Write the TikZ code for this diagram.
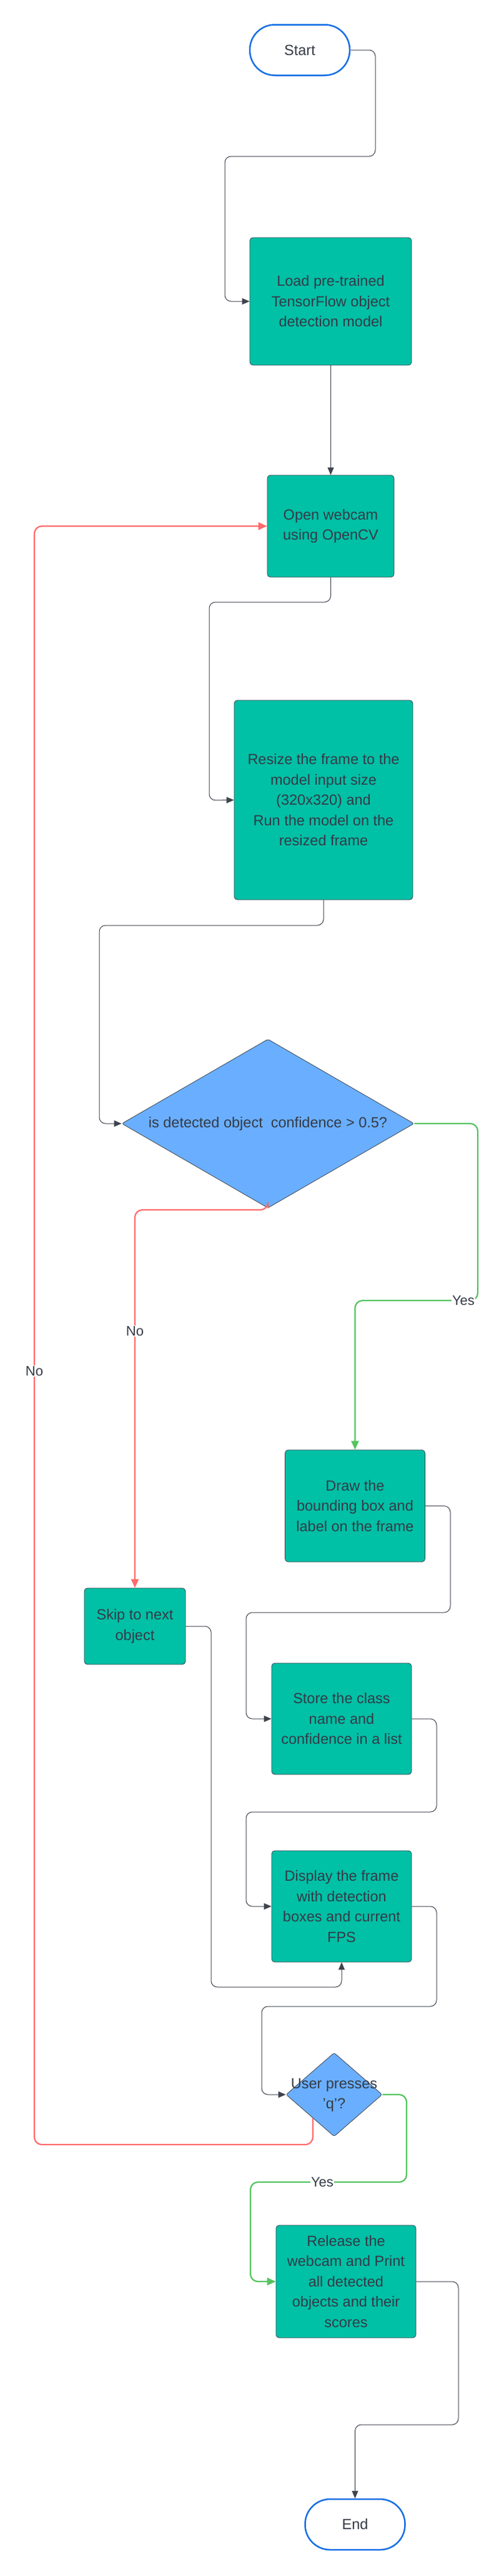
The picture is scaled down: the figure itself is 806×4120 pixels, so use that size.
\documentclass[tikz,border=0pt]{standalone}
\usepackage{fontspec}
\setmainfont{Liberation Sans}
\usetikzlibrary{shapes.geometric,arrows.meta,calc}
\definecolor{tealfill}{RGB}{0,192,166}
\definecolor{bluefill}{RGB}{106,175,255}
\definecolor{termblue}{RGB}{22,111,228}
\definecolor{edgegray}{RGB}{62,67,77}
\definecolor{textcol}{RGB}{52,58,70}
\definecolor{nored}{RGB}{255,106,106}
\definecolor{yesgreen}{RGB}{84,196,96}
\begin{document}
\begin{tikzpicture}[x=1pt,y=-1pt,
  every node/.style={text=textcol},
  box/.style={draw=edgegray, line width=0.8pt, fill=tealfill, rounded corners=5pt,
    align=center, inner sep=0pt, font=\fontsize{23.5}{32.5}\selectfont},
  terminal/.style={draw=termblue, line width=2.5pt, fill=white, rounded corners=40pt,
    minimum width=160pt, minimum height=81pt, inner sep=0pt, font=\fontsize{23.5}{32.5}\selectfont},
  decision/.style={diamond, draw=edgegray, line width=0.8pt, fill=bluefill, rounded corners=3pt, inner sep=0pt},
  txt/.style={align=center, inner sep=0pt, font=\fontsize{23.5}{32.5}\selectfont},
  conn/.style={draw=edgegray, line width=1pt, rounded corners=10pt, -{Triangle[length=12pt,width=10pt]}},
  noline/.style={draw=nored, line width=2.2pt, rounded corners=12pt, -{Triangle[length=14pt,width=12pt]}},
  yesline/.style={draw=yesgreen, line width=2.2pt, rounded corners=12pt, -{Triangle[length=14pt,width=12pt]}},
  lbl/.style={fill=white, inner sep=1.5pt, font=\fontsize{22}{26}\selectfont}
]
\useasboundingbox[fill=white] (0,0) rectangle (806,4120);

% nodes
\node[terminal] (start) at (480,80) {Start};
\node[box, minimum width=259pt, minimum height=204pt] (load) at (529.5,482)
  {Load pre-trained\\TensorFlow object\\detection model};
\node[box, minimum width=203pt, minimum height=163pt] (open) at (529.5,841.5)
  {Open webcam\\using OpenCV};
\node[box, minimum width=286pt, minimum height=319pt] (resize) at (518,1279.5)
  {Resize the frame to the\\model input size\\(320x320) and\\Run the model on the\\resized frame};
\node[decision, minimum width=468pt, minimum height=270pt] (dec1) at (429,1797) {};
\node[txt] (dec1t) at (429,1797) {is detected object\ \ confidence > 0.5?};
\node[box, minimum width=224pt, minimum height=179pt] (drawbox) at (568.5,2408.5)
  {Draw the\\bounding box and\\label on the frame};
\node[box, minimum width=162pt, minimum height=122pt] (skip) at (216,2601)
  {Skip to next\\object};
\node[box, minimum width=224pt, minimum height=178pt] (store) at (547,2749)
  {Store the class\\name and\\confidence in a list};
\node[box, minimum width=224pt, minimum height=178pt] (display) at (547,3049)
  {Display the frame\\with detection\\boxes and current\\FPS};
\node[decision, minimum width=154pt, minimum height=134pt] (dec2) at (535,3350) {};
\node[txt] (dec2t) at (535,3351) {User presses\\'q'?};
\node[box, minimum width=224pt, minimum height=180pt] (release) at (554,3649)
  {Release the\\webcam and Print\\all detected\\objects and their\\scores};
\node[terminal] (end) at (568.5,4037.5) {End};

% connectors
\draw[conn] (start.east) -- (601,80) -- (601,250) -- (360,250) -- (360,482) -- (load.west);
\draw[conn] (load.south) -- (open.north);
\draw[conn] (open.south) -- (529.5,963) -- (335,963) -- (335,1280) -- (resize.west);
\draw[conn] (resize.south) -- (518,1480) -- (159,1480) -- (159,1797) -- (dec1.west);
\draw[yesline] (dec1.east) -- (765,1797) -- (765,2080) -- (568.5,2080) -- (drawbox.north);
\node[lbl] (yes1) at (742,2080) {Yes};
\draw[noline] (dec1.south) -- (429,1935) -- (216,1935) -- (skip.north);
\node[lbl] (no1) at (216,2129) {No};
\draw[conn] (drawbox.east) -- (721,2408.5) -- (721,2579) -- (394,2579) -- (394,2749) -- (store.west);
\draw[conn] (store.east) -- (699,2749) -- (699,2898) -- (394,2898) -- (394,3049) -- (display.west);
\draw[conn] (skip.east) -- (338,2601) -- (338,3178) -- (547,3178) -- (display.south);
\draw[conn] (display.east) -- (699,3049) -- (699,3209) -- (419,3209) -- (419,3350) -- (dec2.west);
\draw[yesline] (dec2.east) -- (651,3350) -- (651,3490) -- (401,3490) -- (401,3649) -- (release.west);
\node[lbl] (yes2) at (516,3490) {Yes};
\coordinate (noq) at ($(dec2.west)!0.56!(dec2.south)$);
\draw[noline] (noq) -- (noq |- 0,3430) -- (55,3430) -- (55,841.5) -- (open.west);
\node[lbl] (no2) at (55,2193) {No};
\draw[conn] (release.east) -- (734,3649) -- (734,3878) -- (568.5,3878) -- (end.north);
\end{tikzpicture}
\end{document}
